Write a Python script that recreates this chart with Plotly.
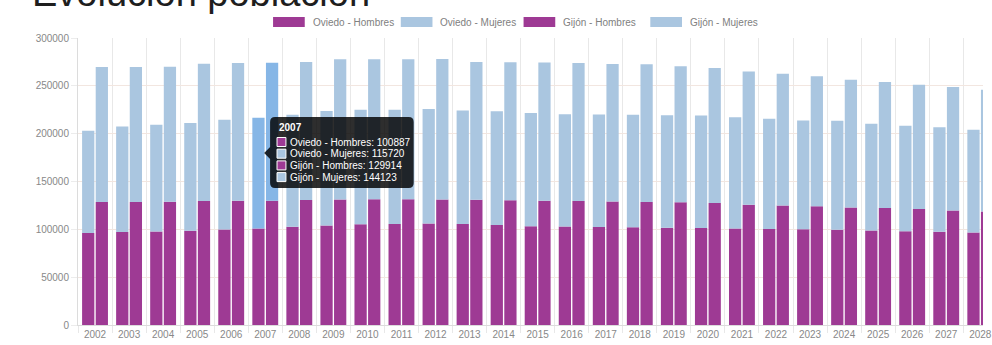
import plotly.graph_objects as go

# Population by municipality and sex, 2002-2028
years = [str(y) for y in range(2002, 2029)]

oviedo_hombres = [96200, 97200, 97800, 98600, 99800, 100887, 102600, 104100, 105300,
                  105700, 106200, 105600, 104400, 103300, 102900, 102400, 102100, 101600,
                  101400, 101000, 100300, 100100, 99600, 98800, 98100, 97600, 96800]
oviedo_mujeres = [106900, 110400, 111600, 112500, 114800, 115720, 117200, 119700, 119700,
                  119300, 119600, 118700, 119100, 118200, 117500, 117600, 117700, 117600,
                  117700, 116200, 115300, 113700, 113800, 111600, 110200, 109000, 107300]
gijon_hombres = [128600, 128700, 128900, 129700, 129900, 129914, 130600, 131300, 131500,
                 131400, 131200, 130800, 130500, 130000, 129600, 129000, 128600, 128200,
                 127500, 125700, 125000, 124000, 122900, 122300, 121300, 119800, 118700]
gijon_mujeres = [141100, 141100, 141000, 143400, 144000, 144123, 144400, 146500, 146400,
                 146500, 146800, 144000, 144100, 144400, 144300, 143800, 144000, 142300,
                 141100, 139400, 137700, 135900, 133500, 131700, 129900, 129000, 127300]

series_names = ["Oviedo - Hombres", "Oviedo - Mujeres", "Gijón - Hombres", "Gijón - Mujeres"]
active_year = "2007"

PURPLE = "#9e3a94"
BLUE = "#aac6e0"
BLUE_ACTIVE = "#86b6e6"

W, H = 992, 345
ML, MR, MT, MB = 78, 0, 38, 20
PW, PH = W - ML - MR, H - MT - MB


def px(x):
    return (x - ML) / PW


def py(y):
    return (H - MB - y) / PH


def colors(base, active):
    return [active if y == active_year else base for y in years]


fig = go.Figure()
traces = [
    (series_names[0], "oviedo", oviedo_hombres, None, colors(PURPLE, PURPLE)),
    (series_names[1], "oviedo", oviedo_mujeres, oviedo_hombres, colors(BLUE, BLUE_ACTIVE)),
    (series_names[2], "gijon", gijon_hombres, None, colors(PURPLE, PURPLE)),
    (series_names[3], "gijon", gijon_mujeres, gijon_hombres, colors(BLUE, BLUE_ACTIVE)),
]
for name, group, vals, base, cols in traces:
    fig.add_bar(x=years, y=vals, base=base, offsetgroup=group, name=name,
                marker=dict(color=cols, line=dict(width=0)))

FONT = "Liberation Sans, Arial, sans-serif"
shapes = []
annotations = []

# Title (partly above the visible area)
annotations.append(dict(text="Evolución población", xref="paper", yref="paper",
                        x=px(30), y=py(16), xanchor="left", yanchor="bottom",
                        showarrow=False, font=dict(family=FONT, size=38, color="#1e1e1e")))

# Legend drawn with wide swatches
legend_x = [275, 404, 528, 656]
legend_cols = [PURPLE, BLUE, PURPLE, BLUE]
for lx, col, name in zip(legend_x, legend_cols, series_names):
    shapes.append(dict(type="rect", xref="paper", yref="paper",
                       x0=px(lx), x1=px(lx + 32), y0=py(27), y1=py(17),
                       fillcolor=col, line=dict(width=0)))
    annotations.append(dict(text=name, xref="paper", yref="paper",
                            x=px(lx + 38), y=py(22), xanchor="left", yanchor="middle",
                            showarrow=False,
                            font=dict(family=FONT, size=10, color="#808080")))

# Tooltip for the active year
bx0, bx1, by0, by1, r = 272, 417, 117, 188, 5
path = (f"M {px(bx0 + r)},{py(by0)} L {px(bx1 - r)},{py(by0)} "
        f"Q {px(bx1)},{py(by0)} {px(bx1)},{py(by0 + r)} "
        f"L {px(bx1)},{py(by1 - r)} Q {px(bx1)},{py(by1)} {px(bx1 - r)},{py(by1)} "
        f"L {px(bx0 + r)},{py(by1)} Q {px(bx0)},{py(by1)} {px(bx0)},{py(by1 - r)} "
        f"L {px(bx0)},{py(159)} L {px(266)},{py(153)} L {px(bx0)},{py(147)} "
        f"L {px(bx0)},{py(by0 + r)} Q {px(bx0)},{py(by0)} {px(bx0 + r)},{py(by0)} Z")
shapes.append(dict(type="path", xref="paper", yref="paper", path=path,
                   fillcolor="rgba(0,0,0,0.82)", line=dict(width=0)))

idx = years.index(active_year)
annotations.append(dict(text=f"<b>{active_year}</b>", xref="paper", yref="paper",
                        x=px(279), y=py(127), xanchor="left", yanchor="middle",
                        showarrow=False, font=dict(family=FONT, size=10, color="white")))
tip_vals = [oviedo_hombres[idx], oviedo_mujeres[idx], gijon_hombres[idx], gijon_mujeres[idx]]
tip_cols = [PURPLE, BLUE, PURPLE, BLUE]
for k, (name, val, col) in enumerate(zip(series_names, tip_vals, tip_cols)):
    ly = 142 + k * 11.7
    shapes.append(dict(type="rect", xref="paper", yref="paper",
                       x0=px(279), x1=px(288), y0=py(ly + 4.5), y1=py(ly - 4.5),
                       fillcolor=col, line=dict(color="white", width=1)))
    annotations.append(dict(text=f"{name}: {val}", xref="paper", yref="paper",
                            x=px(290), y=py(ly), xanchor="left", yanchor="middle",
                            showarrow=False,
                            font=dict(family=FONT, size=10, color="white")))

fig.update_layout(
    width=W, height=H,
    margin=dict(l=ML, r=MR, t=MT, b=MB, pad=0),
    paper_bgcolor="white", plot_bgcolor="white",
    barmode="group", bargap=0.2, bargroupgap=0.1,
    showlegend=False, hovermode=False,
    shapes=shapes, annotations=annotations,
    font=dict(family=FONT),
)
fig.update_xaxes(type="category", range=[-0.5, 26.08], tickson="boundaries",
                 showgrid=True, gridcolor="#e8e8e8", gridwidth=1,
                 ticks="outside", ticklen=7, tickcolor="#e8e8e8",
                 showline=True, linecolor="#dcdcdc", ticklabeloverflow="allow",
                 tickfont=dict(size=10, color="#888"))
fig.update_yaxes(range=[0, 300000], dtick=50000, tickformat="d",
                 showgrid=True, gridcolor="#f2e6e0", gridwidth=1,
                 zeroline=False, showline=True, linecolor="#dcdcdc",
                 ticks="outside", ticklen=6, tickcolor="#ececec",
                 tickfont=dict(size=10, color="#888"))

fig.write_html("out.html")
